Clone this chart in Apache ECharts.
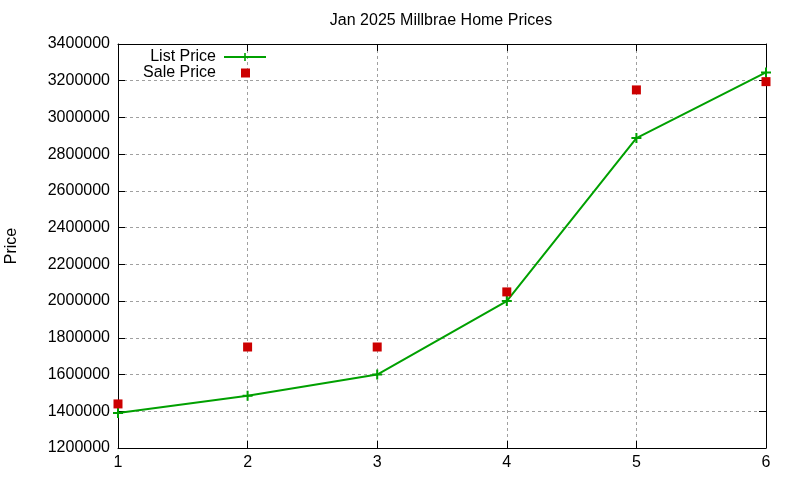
<!DOCTYPE html>
<html>
<head>
<meta charset="utf-8">
<title>Jan 2025 Millbrae Home Prices</title>
<script src="https://cdn.jsdelivr.net/npm/echarts@6/dist/echarts.min.js"></script>
<style>
    html, body { margin: 0; padding: 0; background: #fff; }
    #chart { width: 800px; height: 480px; }
</style>
</head>
<body>
<div id="chart"></div>
<script>
// Chart data
var listX = [1, 2, 3, 4, 5, 6];
var listPrice = [1390000, 1485000, 1600000, 2000000, 2888000, 3245000];
var saleX = [1, 2, 3, 4, 5, 6];
var salePrice = [1440000, 1750000, 1750000, 2050000, 3150000, 3195000];
var yTicks = [1200000, 3400000, 200000];   // min, max, step
var xTicks = [1, 6, 1];

var fontFamily = '"Liberation Sans", Arial, sans-serif';
var fontSize = 16;
var plusSymbol = 'path://M4,0H6V4H10V6H6V10H4V6H0V4H4Z';

var pairs = function(xs, ys) {
    return xs.map(function(x, i) { return [x, ys[i]]; });
};

var chart = echarts.init(document.getElementById('chart'));

// Shared axis look: black frame, ticks pointing inward
var frameAxis = function(base) {
    return Object.assign({
        axisLine: { show: true, onZero: false, lineStyle: { color: '#000', width: 1 } },
        axisTick: { show: true, inside: true, length: 7, lineStyle: { color: '#000' } },
        splitLine: { show: false }
    }, base);
};

var gridLine = { show: true, lineStyle: { color: '#a0a0a0', type: [3, 3], width: 1 } };

chart.setOption({
    animation: false,
    textStyle: { fontFamily: fontFamily, fontSize: fontSize, color: '#000' },

    title: {
        text: 'Jan 2025 Millbrae Home Prices',
        left: 441,
        top: 13,
        padding: 0,
        textAlign: 'center',
        textStyle: { fontFamily: fontFamily, fontSize: fontSize, fontWeight: 'normal', color: '#000' }
    },

    grid: {
        left: 118, right: 34, top: 44, bottom: 32,
        containLabel: false,
        outerBoundsMode: 'none'
    },

    // gnuplot-like key: text right-aligned, sample to its right
    legend: [
        {
            data: ['List Price'],
            right: 533,
            top: 49,
            padding: 0,
            align: 'right',
            itemWidth: 42,
            itemHeight: 10,
            textStyle: { fontFamily: fontFamily, fontSize: fontSize, color: '#000', padding: [0, 3, 0, 0] }
        },
        {
            data: ['Sale Price'],
            right: 550,
            top: 65,
            padding: 0,
            align: 'right',
            itemWidth: 9,
            itemHeight: 9,
            textStyle: { fontFamily: fontFamily, fontSize: fontSize, color: '#000', padding: [0, 20, 0, 0] }
        }
    ],

    xAxis: [
        frameAxis({
            type: 'value',
            position: 'bottom',
            min: xTicks[0], max: xTicks[1], interval: xTicks[2],
            axisLabel: { color: '#000', fontSize: fontSize, margin: 7 },
            splitLine: gridLine
        }),
        frameAxis({
            type: 'value',
            position: 'top',
            min: xTicks[0], max: xTicks[1], interval: xTicks[2],
            axisLabel: { show: false }
        })
    ],

    yAxis: [
        frameAxis({
            type: 'value',
            position: 'left',
            name: 'Price',
            nameLocation: 'middle',
            nameGap: 98,
            nameTextStyle: { fontSize: fontSize, color: '#000' },
            min: yTicks[0], max: yTicks[1], interval: yTicks[2],
            axisLabel: {
                color: '#000',
                fontSize: fontSize,
                margin: 8,
                formatter: function(v) { return String(v); }
            },
            splitLine: gridLine
        }),
        frameAxis({
            type: 'value',
            position: 'right',
            min: yTicks[0], max: yTicks[1], interval: yTicks[2],
            axisLabel: { show: false }
        })
    ],

    series: [
        {
            name: 'List Price',
            type: 'line',
            data: pairs(listX, listPrice),
            symbol: plusSymbol,
            symbolSize: 10,
            color: '#00a000',
            lineStyle: { color: '#00a000', width: 2 },
            itemStyle: { color: '#00a000' },
            z: 3
        },
        {
            name: 'Sale Price',
            type: 'scatter',
            data: pairs(saleX, salePrice),
            symbol: 'rect',
            symbolSize: 9,
            color: '#cc0000',
            itemStyle: { color: '#cc0000', opacity: 1 },
            z: 4
        }
    ]
});
</script>
</body>
</html>
